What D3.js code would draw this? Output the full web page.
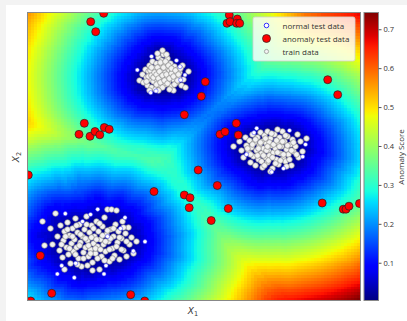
<!DOCTYPE html>
<html>
<head>
<meta charset="utf-8">
<script src="https://cdn.jsdelivr.net/npm/d3@7"></script>
<style>
  body { margin: 0; background: #f3f3f3; }
  text { font-family: "Open Sans", sans-serif; fill: #333; }
</style>
</head>
<body>
<div id="chart"></div>
<script>
//Train data, one array per cluster (x1, x2)
var trainTop = [[11.2,22.0],[11.5,22.6],[11.6,21.8],[11.8,23.1],[11.9,22.3],[12.0,21.5],[12.1,22.9],[12.2,23.5],[12.3,22.1],[12.4,21.3],[12.5,22.7],[12.5,23.9],[12.6,21.9],[12.7,23.2],[12.8,22.4],[12.8,21.1],[12.9,23.7],[13.0,22.0],[13.0,22.9],[13.1,24.3],[13.2,21.5],[13.2,23.4],[13.3,22.5],[13.4,24.0],[13.4,21.9],[13.5,23.0],[13.6,22.2],[13.6,24.6],[13.7,23.6],[13.8,21.6],[13.8,22.8],[13.9,23.3],[14.0,22.3],[14.0,24.2],[14.1,21.9],[14.2,23.0],[14.3,22.5],[14.3,23.7],[14.4,21.4],[14.5,22.9],[14.6,22.1],[14.7,23.4],[14.8,22.6],[14.9,21.8],[15.0,23.1],[15.1,22.3],[15.2,22.8],[15.4,21.5],[15.5,23.5],[15.6,22.1],[15.8,21.3],[16.1,22.9],[13.5,25.0],[13.0,24.7],[12.2,21.0],[14.6,21.0],
  [12.1,22.4],[12.3,23.0],[12.4,22.5],[12.6,22.3],[12.7,22.8],[12.9,22.6],[12.9,21.6],[13.0,23.3],[13.1,22.2],[13.2,22.9],[13.3,21.8],[13.3,23.8],[13.5,22.5],[13.5,21.3],[13.6,23.3],[13.7,22.0],[13.8,23.9],[13.9,22.6],[14.0,21.7],[14.1,23.5],[14.2,22.2],[14.4,22.7],[14.4,23.2],[14.6,22.4],[14.7,21.6],[14.8,23.0],[15.0,22.0],[15.1,22.6],[15.3,23.2],[13.9,24.6],[12.4,23.3],[11.9,21.9],[14.2,21.1],[13.1,21.0]];
var trainRight = [[20.6,15.4],[21.2,15.9],[21.4,15.0],[21.6,14.3],[21.8,16.3],[21.9,15.5],[22.1,14.8],[22.2,16.0],[22.3,13.8],[22.4,15.3],[22.5,16.6],[22.6,14.4],[22.7,15.8],[22.8,13.5],[22.9,15.0],[23.0,16.3],[23.1,14.1],[23.2,15.5],[23.3,16.8],[23.4,14.7],[23.5,13.3],[23.5,15.9],[23.6,15.2],[23.7,16.5],[23.8,14.3],[23.9,15.7],[24.0,13.8],[24.0,16.9],[24.1,15.0],[24.2,14.5],[24.3,16.2],[24.4,15.5],[24.5,13.2],[24.6,14.8],[24.7,16.6],[24.8,15.2],[24.9,14.1],[25.0,15.8],[25.1,13.6],[25.2,16.3],[25.3,14.7],[25.4,15.4],[25.5,16.9],[25.6,14.2],[25.7,15.9],[25.8,13.9],[25.9,15.1],[26.0,16.4],[26.1,14.6],[26.3,15.6],[26.4,13.5],[26.5,16.1],[26.6,14.9],[26.8,15.4],[27.0,16.6],[27.1,14.3],[27.3,15.9],[27.5,14.9],[27.9,16.2],[24.3,12.9],[25.0,17.1],
  [22.0,15.2],[22.3,14.6],[22.5,15.6],[22.8,16.1],[23.0,14.5],[23.1,15.2],[23.3,15.8],[23.4,13.9],[23.6,14.5],[23.8,16.2],[23.9,15.0],[24.1,14.0],[24.2,15.8],[24.4,16.7],[24.5,14.3],[24.6,15.6],[24.8,13.7],[24.9,16.0],[25.0,14.8],[25.2,15.4],[25.3,14.0],[25.5,15.9],[25.6,14.6],[25.8,16.5],[26.0,15.5],[26.2,14.1],[26.4,15.0],[26.6,15.8],[26.9,14.6],[24.0,15.4],[23.7,13.5],[25.9,13.4]];
var trainLeft = [[1.5,7.9],[1.7,5.5],[2.3,7.2],[2.5,5.6],[2.8,8.7],[3.0,6.4],[3.2,5.0],[3.3,7.5],[3.5,4.3],[3.6,6.0],[3.7,6.9],[3.9,5.3],[4.0,7.8],[4.1,4.6],[4.2,6.5],[4.3,3.7],[4.4,5.7],[4.5,7.2],[4.6,4.9],[4.7,6.1],[4.8,8.2],[4.9,5.3],[5.0,6.8],[5.1,4.2],[5.2,7.6],[5.3,5.8],[5.4,3.4],[5.5,6.4],[5.6,4.8],[5.7,7.1],[5.8,5.3],[5.9,8.4],[6.0,6.0],[6.1,4.4],[6.2,6.8],[6.3,5.1],[6.4,7.5],[6.5,3.8],[6.6,5.7],[6.7,6.4],[6.8,4.7],[6.9,7.9],[7.0,5.4],[7.1,6.9],[7.2,3.1],[7.3,6.1],[7.4,4.4],[7.5,7.4],[7.6,5.6],[7.7,8.3],[7.8,4.9],[7.9,6.6],[8.0,9.1],[8.1,5.9],[8.2,3.9],[8.3,7.1],[8.4,9.1],[8.5,5.2],[8.6,6.4],[8.7,4.5],[8.8,7.6],[8.9,9.0],[9.0,5.8],[9.1,6.9],[9.2,4.1],[9.4,6.2],[9.5,7.9],[9.6,5.0],[9.8,6.7],[9.9,4.4],[10.1,7.3],[10.2,5.6],[10.4,6.3],[10.6,4.7],[10.9,5.9],[3.7,3.1],[6.5,3.0],
  [3.4,5.6],[3.8,6.4],[4.2,5.2],[4.5,6.4],[4.8,4.6],[4.9,7.5],[5.2,5.5],[5.3,6.6],[5.6,4.2],[5.8,6.2],[5.9,7.6],[6.1,5.5],[6.3,4.7],[6.4,6.3],[6.6,7.2],[6.8,5.2],[6.9,6.1],[7.0,4.2],[7.2,7.7],[7.3,5.1],[7.5,6.5],[7.7,4.0],[7.8,5.9],[8.0,7.0],[8.2,5.1],[8.3,6.2],[8.5,4.2],[8.6,7.2],[8.9,5.4],[9.2,6.3],[9.4,5.1],[9.6,7.3],[9.9,5.9],[5.0,3.6],[6.0,3.5],[4.0,7.1]];

//Normal test data
var testNormal = [[10.98,23.05],[12.32,20.78],[12.85,20.95],[15.75,22.55],[15.25,23.38],[15.32,22.05],[12.4,24.4],[14.9,24.0],
  [22.92,17.22],[22.65,16.78],[24.42,12.85],[27.52,14.38],[27.8,15.6],[21.9,14.6],[26.2,17.0],[25.6,13.2],
  [11.75,5.88],[2.98,2.65],[4.68,2.28],[7.65,2.65],[7.02,9.12],[3.78,8.68],[9.75,8.28],[10.58,4.95],[3.42,3.48],[4.82,3.72],[7.85,3.48],[5.5,7.9],[8.0,6.4],[9.3,7.2],[6.3,8.6]];

//Anomaly test data
var testAnomaly = [[7.62,28.72],[6.32,27.88],[6.82,26.88],[20.18,28.55],[20.98,28.15],[19.95,27.72],[20.25,27.88],[20.92,27.72],[21.22,27.72],
  [17.78,21.88],[17.38,20.42],[15.68,18.58],[30.02,22.08],[31.02,20.58],
  [5.68,17.72],[5.15,16.62],[6.25,16.42],[6.75,16.9],[7.23,16.57],[7.68,17.3],[8.17,17.12],
  [20.88,17.72],[19.25,16.62],[19.75,16.88],[21.08,16.55],
  [17.07,13.05],[18.98,11.5],[12.65,10.9],[15.68,10.55],[16.25,10.28],[16.17,9.28],[20.08,9.2],[18.37,8.0],
  [29.47,9.75],[31.58,9.13],[31.85,9.13],[32.15,9.43],[33.2,9.7],
  [0.08,12.55],[1.28,4.48],[2.42,0.72],[0.32,-0.05],[10.32,0.58],[11.72,-0.05]];

//Colour bar
var scoreRange = [0.003, 0.743];
var cbTicks = [0.1, 0.2, 0.3, 0.4, 0.5, 0.6, 0.7];

//Jet colormap stops
var jetR = [[0, 0], [0.35, 0], [0.66, 1], [0.89, 1], [1, 0.5]];
var jetG = [[0, 0], [0.125, 0], [0.375, 1], [0.64, 1], [0.91, 0], [1, 0]];
var jetB = [[0, 0.5], [0.11, 1], [0.34, 1], [0.65, 0], [1, 0]];

var legendLabels = ["normal test data", "anomaly test data", "train data"];

var w = 407, h = 321;
var k = 5, grid = 100;
var x2Stretch = 1.22; // x2 runs over a wider range than x1 in the original units

var train = trainTop.concat(trainRight, trainLeft);

var x = d3.scaleLinear().domain([0, 33.3]).range([27.5, 360.5]);
var y = d3.scaleLinear().domain([0, 28.8]).range([300.5, 12.5]);

function channel(stops) {
  return d3.scaleLinear().domain(stops.map(function(s) { return s[0]; }))
           .range(stops.map(function(s) { return s[1]; })).clamp(true);
}
var cr = channel(jetR), cg = channel(jetG), cb = channel(jetB);
function jet(t) {
  return d3.rgb(cr(t) * 255, cg(t) * 255, cb(t) * 255).formatHex();
}
var norm = d3.scaleLinear().domain(scoreRange).range([0, 1]).clamp(true);

//kNN distance on a grid
var xs = x.domain(), ys = y.domain();
var dx = (xs[1] - xs[0]) / grid, dy = (ys[1] - ys[0]) / grid;
var cells = [];
for (var i = 0; i < grid; i++) {
  for (var j = 0; j < grid; j++) {
    var cx = xs[0] + (i + 0.5) * dx, cy = ys[0] + (j + 0.5) * dy;
    var d = train.map(function(p) { return Math.hypot(p[0] - cx, (p[1] - cy) * x2Stretch); });
    d.sort(function(a, b) { return a - b; });
    cells.push({i: i, j: j, dist: d[k - 1]});
  }
}
var maxDist = d3.max(cells, function(c) { return c.dist; });
var minDist = d3.min(cells, function(c) { return c.dist; });
var toScore = d3.scaleLinear().domain([minDist, maxDist]).range(scoreRange);

var svg = d3.select("#chart").append("svg").attr("width", w).attr("height", h);
svg.append("rect").attr("x", 6).attr("y", 5).attr("width", w - 6).attr("height", h - 5).attr("fill", "white");

svg.append("clipPath").attr("id", "plot-clip").append("rect")
  .attr("x", x(0)).attr("y", y(28.8)).attr("width", x(33.3) - x(0)).attr("height", y(0) - y(28.8));

var plot = svg.append("g").attr("clip-path", "url(#plot-clip)");

plot.selectAll("rect.cell")
  .data(cells)
  .enter()
  .append("rect")
  .attr("class", "cell")
  .attr("x", function(c) { return x(xs[0] + c.i * dx); })
  .attr("y", function(c) { return y(ys[0] + (c.j + 1) * dy); })
  .attr("width", x(dx) - x(0) + 0.4)
  .attr("height", y(0) - y(dy) + 0.4)
  .attr("fill", function(c) { return jet(norm(toScore(c.dist))); })
  .attr("shape-rendering", "crispEdges");

plot.selectAll("circle.train")
  .data(train)
  .enter()
  .append("circle")
  .attr("class", "train")
  .attr("cx", function(d) { return x(d[0]); })
  .attr("cy", function(d) { return y(d[1]); })
  .attr("r", 2.8)
  .style("fill", "#f2f2f2")
  .style("stroke", "#8a8a8a")
  .style("stroke-width", 0.7);

plot.selectAll("circle.normal")
  .data(testNormal)
  .enter()
  .append("circle")
  .attr("class", "normal")
  .attr("cx", function(d) { return x(d[0]); })
  .attr("cy", function(d) { return y(d[1]); })
  .attr("r", 2.1)
  .style("fill", "white")
  .style("stroke", "#3030ff")
  .style("stroke-width", 0.5);

plot.selectAll("circle.anomaly")
  .data(testAnomaly)
  .enter()
  .append("circle")
  .attr("class", "anomaly")
  .attr("cx", function(d) { return x(d[0]); })
  .attr("cy", function(d) { return y(d[1]); })
  .attr("r", 4)
  .style("fill", "#ff0000")
  .style("stroke", "#222")
  .style("stroke-width", 0.7);

//Plot frame
svg.append("rect")
  .attr("x", x(0)).attr("y", y(28.8)).attr("width", x(33.3) - x(0)).attr("height", y(0) - y(28.8))
  .attr("fill", "none").attr("stroke", "#888").attr("stroke-width", 1);

//Axis labels
var xl = svg.append("text").attr("x", 193).attr("y", 314).attr("text-anchor", "middle")
  .style("font-family", "DejaVu Sans").style("font-size", "9px");
xl.append("tspan").style("font-style", "italic").text("X");
xl.append("tspan").attr("dy", 2).style("font-size", "6.5px").text("1");

var yl = svg.append("text").attr("transform", "translate(19,157) rotate(-90)").attr("text-anchor", "middle")
  .style("font-family", "DejaVu Sans").style("font-size", "9px");
yl.append("tspan").style("font-style", "italic").text("X");
yl.append("tspan").attr("dy", 2).style("font-size", "6.5px").text("2");

//Colour bar
var cbX = 364, cbW = 14.5;
var cbScale = d3.scaleLinear().domain(scoreRange).range([300.5, 12.5]);
var grad = svg.append("defs").append("linearGradient").attr("id", "jet-grad")
  .attr("x1", 0).attr("y1", 1).attr("x2", 0).attr("y2", 0);
d3.range(0, 1.0001, 0.02).forEach(function(t) {
  grad.append("stop").attr("offset", t).attr("stop-color", jet(t));
});
svg.append("rect").attr("x", cbX).attr("y", 12.5).attr("width", cbW).attr("height", 288)
  .attr("fill", "url(#jet-grad)").attr("stroke", "#888").attr("stroke-width", 1);

var cbAxis = svg.append("g").attr("transform", "translate(" + (cbX + cbW) + ",0)")
  .call(d3.axisRight(cbScale).tickValues(cbTicks).tickSize(3).tickPadding(2).tickFormat(d3.format(".1f")));
cbAxis.select(".domain").remove();
cbAxis.selectAll("line").attr("stroke", "#555");
cbAxis.selectAll("text").style("font-size", "7.5px").style("font-family", "Open Sans").attr("fill", "#333");

svg.append("text").attr("transform", "translate(404,157) rotate(-90)").attr("text-anchor", "middle")
  .style("font-size", "8px").text("Anomaly Score");

//Legend
var lg = svg.append("g");
lg.append("rect").attr("x", 253).attr("y", 17).attr("width", 102).attr("height", 44).attr("rx", 2)
  .attr("fill", "white").attr("fill-opacity", 0.8).attr("stroke", "#d0d0d0").attr("stroke-width", 0.8);
var rows = lg.selectAll("g.row").data(legendLabels).enter().append("g")
  .attr("transform", function(d, i) { return "translate(266.5," + (25.5 + i * 13) + ")"; });
rows.append("circle")
  .attr("r", function(d, i) { return [2.3, 4, 2.1][i]; })
  .style("fill", function(d, i) { return ["white", "#ff0000", "#f2f2f2"][i]; })
  .style("stroke", function(d, i) { return ["#3030ff", "#222", "#8a8a8a"][i]; })
  .style("stroke-width", function(d, i) { return [1, 0.7, 0.7][i]; });
rows.append("text").attr("x", 16).attr("y", 3).style("font-size", "8px").text(function(d) { return d; });
</script>
</body>
</html>
